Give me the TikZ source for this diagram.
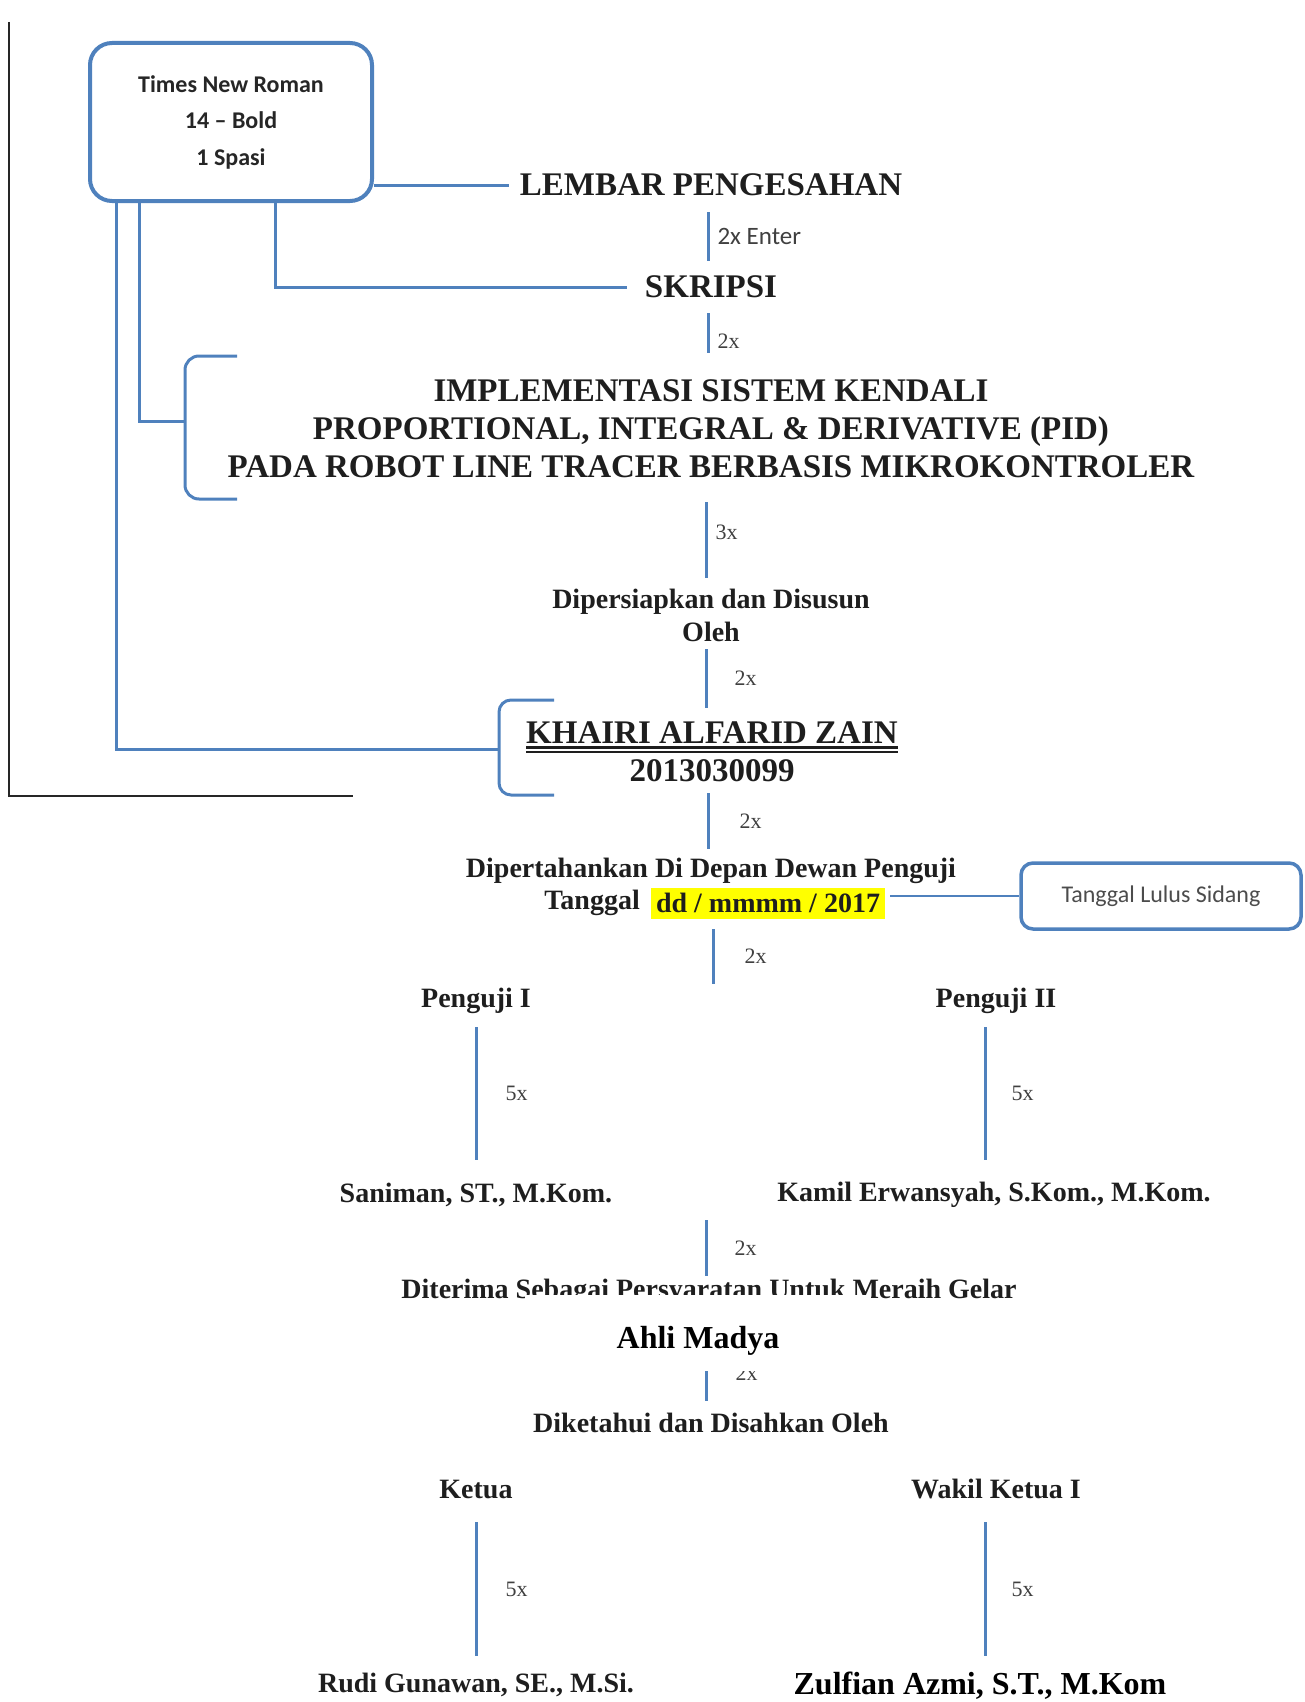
\documentclass[tikz,border=0pt]{standalone}
\usepackage{fontspec}
\setmainfont{Liberation Serif}
\newfontfamily\calib{Carlito}
\definecolor{ob}{RGB}{79,129,189}
\definecolor{tx}{RGB}{30,30,30}
\definecolor{hiyel}{RGB}{255,255,0}
\newcommand{\dblul}[1]{\setbox0=\hbox{#1}\rlap{\rule[-5pt]{\wd0}{2.6pt}}\rlap{\rule[-9pt]{\wd0}{1.4pt}}\box0}
\begin{document}
\begin{tikzpicture}[x=1pt,y=-1pt,
  conn/.style={draw=ob,line width=3pt},
  framel/.style={draw=black!85,line width=2pt},
  big/.style={font=\bfseries\fontsize{33}{38}\selectfont,text=tx,inner sep=0pt,align=center},
  mid/.style={font=\bfseries\fontsize{28}{33}\selectfont,text=tx,inner sep=0pt,align=center},
  lbl/.style={font=\fontsize{22}{24}\selectfont,text=black!75,inner sep=0pt,anchor=west},
  note/.style={draw=ob,line width=4pt,rounded corners=22pt,align=center,font=\calib\bfseries\fontsize{24}{36.5}\selectfont,text=black!85},
  note2/.style={draw=ob,line width=3.5pt,rounded corners=12pt,align=center,font=\calib\fontsize{24}{28}\selectfont,text=black!70},
]
\useasboundingbox (0,0) rectangle (1304,1702);

% frame
\draw[framel] (9,22) -- (9,796) -- (353,796);

% nodes
\node[note, minimum width=282pt, minimum height=158pt] (box1) at (231,122) {Times New Roman\\14 \textendash{} Bold\\1 Spasi};
\node[big] (lembar) at (711,185) {LEMBAR PENGESAHAN};
\node[big] (skripsi) at (711,287) {SKRIPSI};
\node[big] (title) at (711,429) {IMPLEMENTASI SISTEM KENDALI\\PROPORTIONAL, INTEGRAL \& DERIVATIVE (PID)\\PADA ROBOT LINE TRACER BERBASIS MIKROKONTROLER};
\node[mid] (disusun) at (711,615) {Dipersiapkan dan Disusun\\Oleh};
\node[big] (khairi) at (712,752) {\dblul{KHAIRI ALFARID ZAIN}\\2013030099};
\node[mid] (dip1) at (711,871) {Dipertahankan Di Depan Dewan Penguji};
\node[mid, anchor=east] (tgl) at (640,903) {Tanggal};
\node[mid, fill=hiyel, minimum width=234pt, minimum height=31pt] (date) at (768,903) {dd / mmmm / 2017};
\node[note2, minimum width=280pt, minimum height=66pt] (box2) at (1161,896) {Tanggal Lulus Sidang};
\node[mid] (pg1) at (476,1001) {Penguji I};
\node[mid] (pg2) at (996,1001) {Penguji II};
\node[mid] (san) at (476,1195) {Saniman, ST., M.Kom.};
\node[mid] (kam) at (994,1195) {Kamil Erwansyah, S.Kom., M.Kom.};
\node[mid] (dit) at (709,1292) {Diterima Sebagai Persyaratan Untuk Meraih Gelar};
\node[mid] (dik) at (711,1423) {Diketahui dan Disahkan Oleh};
\node[mid] (ket) at (476,1489) {Ketua};
\node[mid] (wak) at (996,1489) {Wakil Ketua I};
\node[mid] (rudi) at (476,1685) {Rudi Gunawan, SE., M.Si.};
\node[font=\bfseries\fontsize{32}{36}\selectfont, text=black, inner sep=0pt] (zul) at (980,1686) {Zulfian Azmi, S.T., M.Kom};

% coordinates
\coordinate (b1mid) at (185,421);
\coordinate (b2mid) at (499,749);
\coordinate (v6end) at (713,984);
\coordinate (v9top) at (706,1220);
\coordinate (v10top) at (706,1371);

% box1 connectors
\draw[conn] (box1.east |- lembar.west) -- ([xshift=-11pt]lembar.west);
\draw[conn] ([xshift=44pt]box1.south) |- ([xshift=-18pt]skripsi.west);
\draw[conn] ([xshift=-92pt]box1.south) |- (b1mid);
\draw[conn] ([xshift=-115pt]box1.south) |- (b2mid);

% braces
\draw[conn, rounded corners=14pt] (237,356) -- (185,356) -- (185,499) -- (237,499);
\draw[conn, rounded corners=12pt] (554,700) -- (499,700) -- (499,795) -- (554,795);

% date to box2
\draw[conn, line width=2.5pt] ([xshift=5pt]box2.west -| date.east) -- (box2.west);

% vertical connectors
\draw[conn] ([xshift=-3pt,yshift=-27pt]lembar.center) -- ([xshift=-3pt,yshift=26pt]skripsi.center)
  node[lbl, midway, xshift=8pt, font=\calib\fontsize{25}{27}\selectfont] {2x Enter};
\draw[conn] ([xshift=-3pt,yshift=-26pt]skripsi.center) -- ([xshift=-3pt,yshift=76pt]title.center)
  node[lbl, pos=0.7, xshift=8pt] {2x};
\draw[conn] ([xshift=-5pt,yshift=-73pt]title.center) -- ([xshift=-5pt,yshift=37pt]disusun.center)
  node[lbl, pos=0.4, xshift=8pt] {3x};
\draw[conn] ([xshift=-5pt,yshift=-34pt]disusun.center) -- ([xshift=-6pt,yshift=44pt]khairi.center)
  node[lbl, midway, xshift=27pt] {2x};
\draw[conn] ([xshift=-4pt,yshift=-41pt]khairi.center) -- ([xshift=-3pt,yshift=22pt]dip1.center)
  node[lbl, midway, xshift=30pt] {2x};
\draw[conn] ([xshift=-55pt,yshift=-26pt]date.center) -- (v6end)
  node[lbl, midway, xshift=30pt] {2x};
\draw[conn] ([yshift=-26pt]pg1.center) -- ([yshift=35pt]san.center)
  node[lbl, midway, xshift=28pt] {5x};
\draw[conn] ([xshift=-11pt,yshift=-26pt]pg2.center) -- ([xshift=-9pt,yshift=35pt]kam.center)
  node[lbl, midway, xshift=25pt] {5x};
\draw[conn] (v9top) -- ([xshift=-3pt,yshift=16pt]dit.center)
  node[lbl, midway, xshift=27pt] {2x};
\draw[conn] (v10top) -- ([xshift=-5pt,yshift=22pt]dik.center)
  node[lbl, pos=0.08, xshift=28pt] {2x};
\draw[conn] ([yshift=-33pt]ket.center) -- ([yshift=29pt]rudi.center)
  node[lbl, midway, xshift=28pt] {5x};
\draw[conn] ([xshift=-11pt,yshift=-33pt]wak.center) -- ([xshift=5pt,yshift=30pt]zul.center)
  node[lbl, midway, xshift=25pt] {5x};

% Ahli Madya (white patch as in the reference)
\node[font=\bfseries\fontsize{32}{36}\selectfont, text=black, fill=white, inner sep=0pt,
  text height=38pt, text depth=7pt,
  minimum width=346pt, minimum height=76pt] (ahli) at (698,1333) {Ahli Madya};
\end{tikzpicture}
\end{document}
